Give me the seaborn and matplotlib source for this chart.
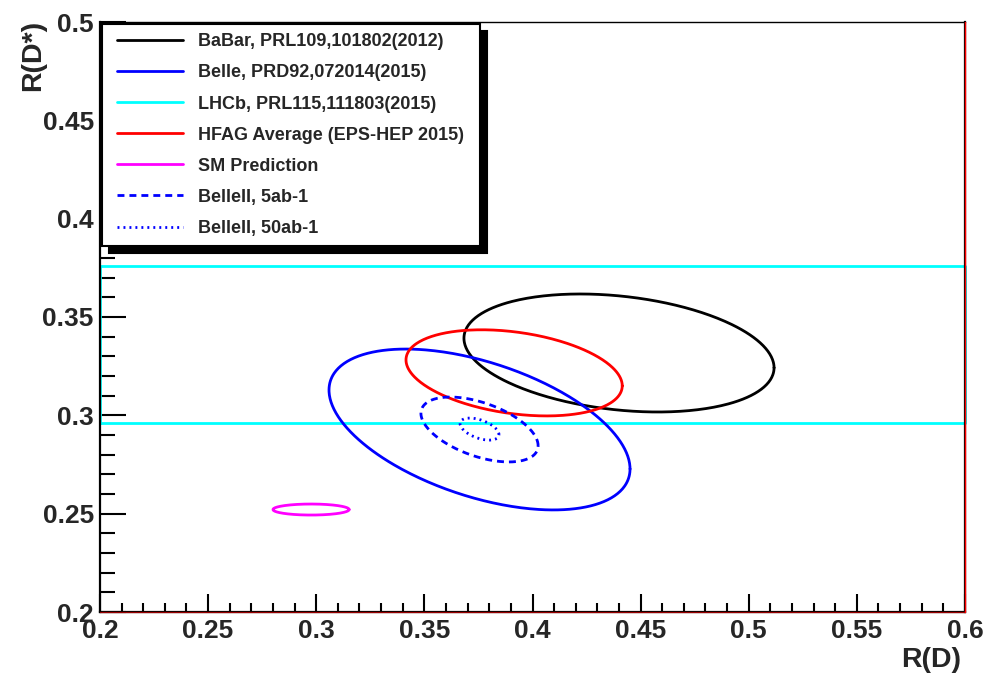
import numpy as np
import pandas as pd
import matplotlib
matplotlib.use("Agg")
import matplotlib.pyplot as plt
import seaborn as sns
from matplotlib.lines import Line2D
from matplotlib.legend_handler import HandlerLine2D
from matplotlib.ticker import MultipleLocator, FuncFormatter

# ---------------- data ----------------
legend_labels = [
    "BaBar, PRL109,101802(2012)",
    "Belle, PRD92,072014(2015)",
    "LHCb, PRL115,111803(2015)",
    "HFAG Average (EPS-HEP 2015)",
    "SM Prediction",
    "BelleII, 5ab-1",
    "BelleII, 50ab-1",
]

# 1-sigma ellipses: centre, sigmas, correlation
ell_names = ["BaBar", "Belle", "HFAG", "SM", "BelleII_5ab", "BelleII_50ab"]
rd_center = [0.440, 0.3755, 0.3915, 0.2976, 0.3755, 0.3755]
rdst_center = [0.3317, 0.2928, 0.3216, 0.2521, 0.2928, 0.2930]
rd_sigma = [0.0717, 0.0696, 0.0500, 0.0176, 0.0271, 0.0090]
rdst_sigma = [0.0300, 0.0409, 0.0219, 0.0028, 0.0165, 0.0056]
corr = [-0.25, -0.49, -0.30, 0.0, -0.50, -0.50]

# LHCb measures only R(D*): band over the full R(D) range
lhcb_rdst_low = 0.296
lhcb_rdst_high = 0.376
lhcb_rd_range = [0.2, 0.6]

x_range = [0.2, 0.6]
y_range = [0.2, 0.5]

# ---------------- styles ----------------
ell_colors = ["black", "blue", "red", "magenta", "blue", "blue"]
ell_styles = ["-", "-", "-", "-", (0, (5, 3.6)), (0, (1.4, 2.9))]
legend_colors = ["black", "blue", "cyan", "red", "magenta", "blue", "blue"]
legend_styles = ["-", "-", "-", "-", "-", (0, (5, 3.6)), (0, (1.4, 2.9))]

sns.set_style("ticks")
plt.rcParams["font.family"] = ["Liberation Sans", "DejaVu Sans"]
plt.rcParams["font.weight"] = "bold"
plt.rcParams["lines.scale_dashes"] = False

fig = plt.figure(figsize=(9.85, 6.74), dpi=100)
ax = fig.add_axes([100 / 985, 1 - 612 / 674, 865 / 985, 590 / 674])

# build ellipse curves
t = np.linspace(0, 2 * np.pi, 400)
frames = []
for name, mx, my, sx, sy, r in zip(ell_names, rd_center, rdst_center, rd_sigma, rdst_sigma, corr):
    frames.append(pd.DataFrame({
        "name": name,
        "RD": mx + sx * np.cos(t),
        "RDst": my + sy * (r * np.cos(t) + np.sqrt(1 - r * r) * np.sin(t)),
    }))
ell_df = pd.concat(frames, ignore_index=True)

lhcb_df = pd.DataFrame({
    "RD": [lhcb_rd_range[0], lhcb_rd_range[1], lhcb_rd_range[1], lhcb_rd_range[0], lhcb_rd_range[0]],
    "RDst": [lhcb_rdst_low, lhcb_rdst_low, lhcb_rdst_high, lhcb_rdst_high, lhcb_rdst_low],
})

sns.lineplot(data=lhcb_df, x="RD", y="RDst", sort=False, estimator=None,
             color="cyan", lw=2.0, ax=ax, clip_on=False)

for name, c, ls in zip(ell_names, ell_colors, ell_styles):
    sub = ell_df[ell_df["name"] == name]
    sns.lineplot(data=sub, x="RD", y="RDst", sort=False, estimator=None,
                 color=c, lw=2.0, linestyle=ls, ax=ax)

ax.set_xlim(*x_range)
ax.set_ylim(*y_range)
ax.set_xlabel("")
ax.set_ylabel("")

# frame
for s in ax.spines.values():
    s.set_color("black")
    s.set_linewidth(1.6)
ax.spines["top"].set_linewidth(1.0)
ax.axhline(y_range[0], color="#990000", lw=0.9, zorder=5, clip_on=False)
ax.axvline(x_range[1], color="red", lw=1.0, zorder=5, clip_on=False)

# ticks
fmt = FuncFormatter(lambda v, p: f"{v:g}")
ax.xaxis.set_major_locator(MultipleLocator(0.05))
ax.xaxis.set_minor_locator(MultipleLocator(0.01))
ax.yaxis.set_major_locator(MultipleLocator(0.05))
ax.yaxis.set_minor_locator(MultipleLocator(0.01))
ax.xaxis.set_major_formatter(fmt)
ax.yaxis.set_major_formatter(fmt)
ax.tick_params(which="both", direction="in", top=False, right=False, width=1.5,
               labelsize=19, color="black")
ax.tick_params(axis="x", which="major", length=13, pad=5)
ax.tick_params(axis="x", which="minor", length=6.5)
ax.tick_params(axis="y", which="major", length=19, pad=4.5)
ax.tick_params(axis="y", which="minor", length=11)
for lab in ax.get_xticklabels() + ax.get_yticklabels():
    lab.set_fontweight("bold")

# axis titles
fig.text(961 / 985, 1 - 673 / 674, "R(D)", ha="right", va="bottom",
         fontsize=20.5, fontweight="bold")
fig.text(33 / 985, 1 - 20 / 674, "R(D*)", ha="center", va="top", rotation=90,
         fontsize=20.5, fontweight="bold")

# legend
handles = [Line2D([], [], color=c, lw=2.0, linestyle=ls)
           for c, ls in zip(legend_colors, legend_styles)]
leg = ax.legend(handles, legend_labels, loc="upper left", mode="expand",
                bbox_to_anchor=(2 / 865, 0, 378 / 865, 1 - 2 / 590), borderaxespad=0,
                prop={"size": 13, "weight": "bold"},
                handlelength=3.94, handletextpad=0.83, labelspacing=0.78,
                borderpad=0.52, fancybox=False, framealpha=1,
                handler_map={Line2D: HandlerLine2D(xpad=0.33)},
                shadow={"ox": 5, "oy": -5, "color": "black", "alpha": 1})
leg.get_frame().set_edgecolor("black")
leg.get_frame().set_linewidth(1.5)
leg.set_zorder(10)

fig.savefig("out.png", dpi=100)
